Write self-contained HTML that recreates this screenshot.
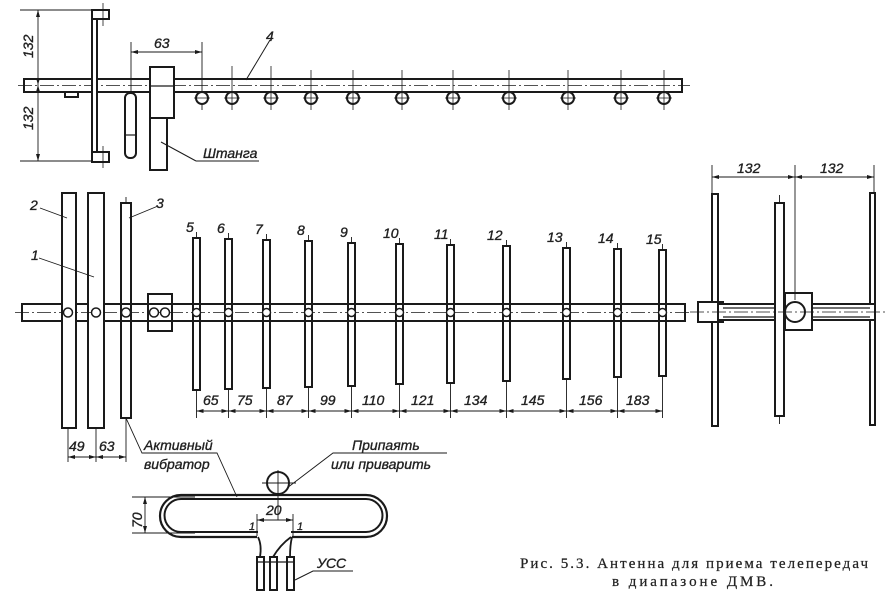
<!DOCTYPE html>
<html><head><meta charset="utf-8"><style>
html,body{margin:0;padding:0;background:#fff;}
svg{display:block;}
text{font-family:"Liberation Sans","DejaVu Sans",sans-serif;font-style:italic;fill:#222;stroke:#222;stroke-width:0.35;}
.c{font-family:"Liberation Serif","DejaVu Serif",serif;font-style:normal;stroke-width:0.25;}
</style></head><body>
<svg width="885" height="608" viewBox="0 0 885 608" xmlns="http://www.w3.org/2000/svg">
<rect width="885" height="608" fill="#fff"/>
<g stroke="#1a1a1a" fill="none" stroke-width="2">
<rect x="24" y="79" width="658" height="13" fill="#fff"/>
<line x1="18" y1="85.5" x2="690" y2="85.5" stroke-width="0.8" stroke-dasharray="14 3 2 3"/>
<rect x="92" y="10" width="5" height="152" fill="#fff"/>
<rect x="92" y="10" width="17" height="9" fill="#fff"/>
<rect x="92" y="152" width="17" height="10" fill="#fff"/>
<rect x="65" y="92" width="13" height="5"/>
<line x1="103" y1="3" x2="103" y2="26" stroke-width="0.8"/>
<line x1="103" y1="146" x2="103" y2="168" stroke-width="0.8"/>
<line x1="20" y1="10" x2="92" y2="10" stroke-width="0.9"/>
<line x1="20" y1="161" x2="92" y2="161" stroke-width="0.9"/>
<line x1="38" y1="10" x2="38" y2="161" stroke-width="0.9"/>
<rect x="125" y="93" width="11" height="65" rx="5" fill="#fff"/>
<line x1="125" y1="135" x2="136" y2="135" stroke-width="1.2"/>
<line x1="131" y1="42" x2="131" y2="93" stroke-width="0.9"/>
<rect x="150" y="67" width="24" height="51" fill="#fff"/>
<line x1="150" y1="86" x2="174" y2="86" stroke-width="1.2"/>
<rect x="150" y="118" width="17" height="52" fill="#fff"/>
<line x1="161" y1="142" x2="196" y2="161" stroke-width="1"/>
<line x1="196" y1="161" x2="259" y2="161" stroke-width="1"/>
<line x1="202" y1="42" x2="202" y2="110" stroke-width="0.9"/>
<line x1="131" y1="52" x2="202" y2="52" stroke-width="0.9"/>
<line x1="270" y1="40" x2="246" y2="80" stroke-width="1"/>
<g fill="#fff">
<circle cx="202" cy="98" r="6"/><circle cx="232" cy="98" r="6"/><circle cx="271" cy="98" r="6"/>
<circle cx="311" cy="98" r="6"/><circle cx="353" cy="98" r="6"/><circle cx="402" cy="98" r="6"/>
<circle cx="453" cy="98" r="6"/><circle cx="509" cy="98" r="6"/><circle cx="568" cy="98" r="6"/>
<circle cx="621" cy="98" r="6"/><circle cx="664" cy="98" r="6"/>
</g>
<g stroke-width="0.8">
<path d="M232 66V110M271 66V110M311 70V110M353 70V110M402 70V110M453 70V110M509 70V110M568 70V110M621 70V110M664 70V110"/>
<path d="M194 98H210M224 98H240M263 98H279M303 98H319M345 98H361M394 98H410M445 98H461M501 98H517M560 98H576M613 98H629M656 98H672"/>
</g>

<rect x="22" y="304" width="663" height="17" fill="#fff"/>
<g fill="#fff">
<rect x="62" y="193" width="14" height="235"/>
<rect x="88" y="193" width="16" height="235"/>
<rect x="121" y="203" width="10" height="215"/>
<rect x="148" y="294" width="24" height="37"/>
<rect x="193" y="238" width="7" height="152"/>
<rect x="225" y="239" width="7" height="150"/>
<rect x="263" y="240" width="7" height="148"/>
<rect x="305" y="241" width="7" height="146"/>
<rect x="348" y="243" width="7" height="143"/>
<rect x="396" y="244" width="7" height="140"/>
<rect x="447" y="245" width="7" height="138"/>
<rect x="503" y="246" width="7" height="135"/>
<rect x="563" y="248" width="7" height="131"/>
<rect x="614" y="249" width="7" height="128"/>
<rect x="659" y="250" width="7" height="126"/>
</g>
<path d="M22 304H62M76 304H88M104 304H685M22 321H62M76 321H88M104 321H685M22 304V321M685 304V321" />
<line x1="15" y1="312.5" x2="692" y2="312.5" stroke-width="0.8" stroke-dasharray="14 3 2 3"/>
<g fill="#fff" stroke-width="1.5">
<circle cx="68" cy="312.5" r="4.5"/><circle cx="96" cy="312.5" r="4.5"/><circle cx="126" cy="312.5" r="4.5"/>
<circle cx="154" cy="312.5" r="4.5"/><circle cx="165" cy="312.5" r="4.5"/>
<circle cx="196.5" cy="312.5" r="4"/><circle cx="228.5" cy="312.5" r="4"/><circle cx="266.5" cy="312.5" r="4"/>
<circle cx="308.5" cy="312.5" r="4"/><circle cx="351.5" cy="312.5" r="4"/><circle cx="399.5" cy="312.5" r="4"/>
<circle cx="450.5" cy="312.5" r="4"/><circle cx="506.5" cy="312.5" r="4"/><circle cx="566.5" cy="312.5" r="4"/>
<circle cx="617.5" cy="312.5" r="4"/><circle cx="662.5" cy="312.5" r="4"/>
</g>
<g stroke-width="0.9">
<path d="M196.5 232V238M228.5 233V239M266.5 234V240M308.5 235V241M351.5 237V243M399.5 238V244M450.5 239V245M506.5 240V246M566.5 242V248M617.5 243V249M662.5 244V250M126 197V203"/>
<path d="M196.5 390V418M228.5 389V418M266.5 388V418M308.5 387V418M351.5 386V418M399.5 384V418M450.5 383V418M506.5 381V418M566.5 379V418M617.5 377V418M662.5 376V418"/>
<line x1="196.5" y1="411" x2="662.5" y2="411"/>
<path d="M68 428V462M96 428V462M126 418V462"/>
<line x1="68" y1="457" x2="126" y2="457"/>
<path d="M40 208L67 218M39 258L94 277M158 206L129 218"/>
<path d="M126 418L142 453H217L237 497"/>
<path d="M287 488L333 453H447"/>
</g>
<g fill="#1a1a1a" stroke="none">
<path d="M196.5 411l7-2v4zM228.5 411l-7-2v4zM228.5 411l7-2v4zM266.5 411l-7-2v4zM266.5 411l7-2v4zM308.5 411l-7-2v4zM308.5 411l7-2v4zM351.5 411l-7-2v4zM351.5 411l7-2v4zM399.5 411l-7-2v4zM399.5 411l7-2v4zM450.5 411l-7-2v4zM450.5 411l7-2v4zM506.5 411l-7-2v4zM506.5 411l7-2v4zM566.5 411l-7-2v4zM566.5 411l7-2v4zM617.5 411l-7-2v4zM617.5 411l7-2v4zM662.5 411l-7-2v4z"/>
<path d="M68 457l7-2v4zM96 457l-7-2v4zM96 457l7-2v4zM126 457l-7-2v4z"/>
<path d="M131 52l7-2v4zM202 52l-7-2v4zM38 10l-2 7h4zM38 161l-2-7h4zM38 85l-2-7h4zM38 85l-2 7h4z"/>
<path d="M712 177l7-2v4zM795 177l-7-2v4zM795 177l7-2v4zM874 177l-7-2v4z"/>
<path d="M145 497l-2 7h4zM145 533l-2-7h4zM257 520l7-2v4zM293 520l-7-2v4z"/>
</g>

<rect x="712" y="194" width="6" height="232" fill="#fff"/>
<rect x="870" y="193" width="5" height="232" fill="#fff"/>
<rect x="698" y="302" width="25" height="20" fill="#fff"/>
<rect x="718" y="304" width="157" height="16" fill="#fff"/>
<line x1="723" y1="308" x2="870" y2="308" stroke-width="1.2"/>
<line x1="723" y1="317" x2="870" y2="317" stroke-width="1.2"/>
<rect x="785" y="293" width="27" height="37" fill="#fff"/>
<rect x="775" y="203" width="9" height="213" fill="#fff"/>
<circle cx="795" cy="312" r="10" fill="#fff"/>
<line x1="690" y1="312" x2="885" y2="312" stroke-width="0.8" stroke-dasharray="14 3 2 3"/>
<g stroke-width="0.9">
<path d="M712 165V194M795 165V300M874 165V193M779.5 195V203M779.5 416V424"/>
<line x1="712" y1="177" x2="874" y2="177"/>
</g>

<path d="M257 537H181A21 21 0 0 1 181 495H366A21 21 0 0 1 366 537H292" stroke-width="2.2"/>
<path d="M258 532H181A16.5 16.5 0 0 1 181 499H366A16.5 16.5 0 0 1 366 532H291" stroke-width="2"/>
<circle cx="278" cy="483" r="11" fill="#fff"/>
<g stroke-width="0.9">
<path d="M262 483H296M278 470V520"/>
<path d="M132 497H195M132 533H195M145 497V533"/>
<path d="M257 514V536M293 514V536"/>
<line x1="257" y1="520" x2="293" y2="520"/>
</g>
<path d="M258 537Q262 545 260 557M291 537Q280 545 273 557M292 537Q290 545 290 557" stroke-width="1.8"/>
<g fill="#fff">
<rect x="257" y="557" width="7" height="33"/>
<rect x="270" y="557" width="7" height="33"/>
<rect x="287" y="557" width="7" height="33"/>
</g>
<line x1="257" y1="562" x2="294" y2="562" stroke-width="1.2"/>
<path d="M295 580L313 571H353" stroke-width="1"/>
</g>

<g font-size="14">
<text x="0" y="0" transform="translate(33,58) rotate(-90)">132</text>
<text x="0" y="0" transform="translate(33,130) rotate(-90)">132</text>
<text x="154" y="48">63</text>
<text x="266" y="41">4</text>
<text x="203" y="158">Штанга</text>
<text x="30" y="210">2</text>
<text x="31" y="260">1</text>
<text x="156" y="208">3</text>
<text x="186" y="232">5</text><text x="217" y="233">6</text><text x="255" y="234">7</text>
<text x="297" y="235">8</text><text x="340" y="237">9</text><text x="383" y="238">10</text>
<text x="434" y="239">11</text><text x="487" y="240">12</text><text x="547" y="242">13</text>
<text x="598" y="243">14</text><text x="646" y="244">15</text>
<text x="203" y="405">65</text><text x="237" y="405">75</text><text x="277" y="405">87</text>
<text x="320" y="405">99</text><text x="362" y="405">110</text><text x="411" y="405">121</text>
<text x="464" y="405">134</text><text x="521" y="405">145</text><text x="579" y="405">156</text>
<text x="626" y="405">183</text>
<text x="69" y="451">49</text><text x="99" y="451">63</text>
<text x="144" y="450">Активный</text>
<text x="144" y="469">вибратор</text>
<text x="352" y="450">Припаять</text>
<text x="331" y="469">или приварить</text>
<text x="0" y="0" transform="translate(142,528) rotate(-90)">70</text>
<text x="266" y="515">20</text>
<text x="249" y="530" font-size="11">1</text>
<text x="297" y="530" font-size="11">1</text>
<text x="317" y="568">УСС</text>
<text x="737" y="173">132</text>
<text x="820" y="173">132</text>
</g>
<text class="c" x="520" y="568" font-size="15" textLength="348" lengthAdjust="spacing">Рис. 5.3. Антенна для приема телепередач</text>
<text class="c" x="612" y="586" font-size="15" textLength="161" lengthAdjust="spacing">в диапазоне ДМВ.</text>
</svg>
</body></html>
